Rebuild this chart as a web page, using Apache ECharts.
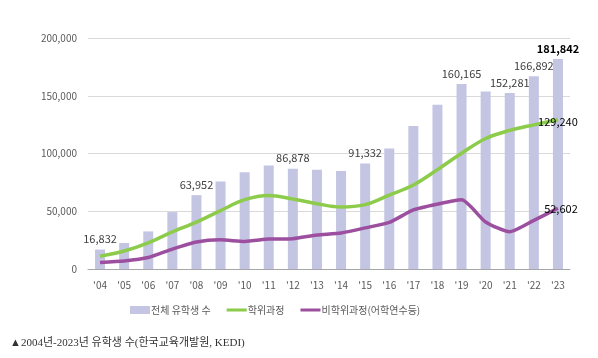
<!DOCTYPE html>
<html>
<head>
<meta charset="utf-8">
<script src="https://cdn.jsdelivr.net/npm/echarts@6/dist/echarts.min.js"></script>
<style>
html,body{margin:0;padding:0;background:#fff;}
#chart{width:598px;height:358px;}
</style>
</head>
<body>
<div id="chart"></div>
<script>
const years = ["'04","'05","'06","'07","'08","'09","'10","'11","'12","'13","'14","'15","'16","'17","'18","'19","'20","'21","'22","'23"];
const totalStudents = [16832,22526,32557,49270,63952,75850,83842,89537,86878,85923,84891,91332,104262,123858,142205,160165,153695,152281,166892,181842];
const degreeStudents = [11121,15577,22624,32056,40585,50591,60000,63653,60589,56515,53636,55739,63952,72741,86036,100215,113003,120018,124803,129240];
const nonDegreeStudents = [5711,6949,9933,17214,23367,25259,23842,25884,26289,29408,31255,35593,40310,51117,56169,59950,40692,32263,42089,52602];
const labeledBarYears = ["'04","'08","'12","'15","'19","'21","'22","'23"];
const boldBarYears = ["'23"];
const seriesNames = ["전체 유학생 수","학위과정","비학위과정(어학연수등)"];
const caption = "▲2004년-2023년 유학생 수(한국교육개발원, KEDI)";

const fmt = v => v.toLocaleString('en-US');
const FONT = "'Noto Sans CJK KR', sans-serif";

const chart = echarts.init(document.getElementById('chart'), null, {renderer:'canvas'});

const barData = totalStudents.map((v,i) => {
  const y = years[i];
  if (labeledBarYears.includes(y)) {
    const bold = boldBarYears.includes(y);
    return {value:v, label:{show:true, position:'top', distance:5, formatter:()=>fmt(v),
      color: bold ? '#000' : '#404040', fontWeight: bold ? 'bold' : 'normal', fontSize:11, fontFamily:FONT}};
  }
  return {value:v};
});
const lastLabel = (arr, offset) => arr.map((v,i) => i === arr.length-1 ?
  {value:v, label:{show:true, position:'inside', offset:offset, formatter:()=>fmt(v), color:'#000', fontSize:11, fontFamily:FONT, fontWeight:'normal'}} : v);

const lineIcon = 'path://M0,0 H20 V3 H0 Z';

chart.setOption({
  animation:false,
  textStyle:{fontFamily:FONT},
  grid:{left:88, right:28, top:38, bottom:89, containLabel:false},
  graphic:[{type:'text', left:10, top:338, style:{text:caption, font:"11px 'Liberation Serif', 'Noto Sans CJK KR', serif", fill:'#333'}}],
  legend:{
    left:125, top:300, itemGap:16, itemWidth:20, itemHeight:8,
    textStyle:{color:'#595959', fontSize:10, fontFamily:FONT, padding:[0,0,0,-4]},
    data:[{name:seriesNames[0], icon:'rect'},{name:seriesNames[1], icon:lineIcon},{name:seriesNames[2], icon:lineIcon}]
  },
  xAxis:{
    type:'category', data:years, boundaryGap:true,
    axisLine:{lineStyle:{color:'#a6a6a6', width:1}},
    axisTick:{show:false},
    axisLabel:{color:'#595959', fontSize:10, margin:11, fontFamily:FONT}
  },
  yAxis:{
    type:'value', min:0, max:200000, interval:50000,
    axisLine:{show:false}, axisTick:{show:false},
    splitLine:{lineStyle:{color:'#d9d9d9', width:1}},
    axisLabel:{color:'#595959', fontSize:10, margin:11, formatter:v=>fmt(v), fontFamily:FONT}
  },
  series:[
    {name:seriesNames[0], type:'bar', data:barData, barWidth:10, itemStyle:{color:'#c4c5e3'}, z:1},
    {name:seriesNames[1], type:'line', data:lastLabel(degreeStudents,[0,2]), smooth:0.35, symbol:'circle', symbolSize:0.01, showSymbol:true,
      lineStyle:{color:'#8dcb4a', width:3.5}, itemStyle:{color:'#8dcb4a'}, z:3},
    {name:seriesNames[2], type:'line', data:lastLabel(nonDegreeStudents,[3,1]), smooth:0.2, symbol:'circle', symbolSize:0.01, showSymbol:true,
      lineStyle:{color:'#9c4f9f', width:3.5}, itemStyle:{color:'#9c4f9f'}, z:3}
  ]
});
</script>
</body>
</html>
